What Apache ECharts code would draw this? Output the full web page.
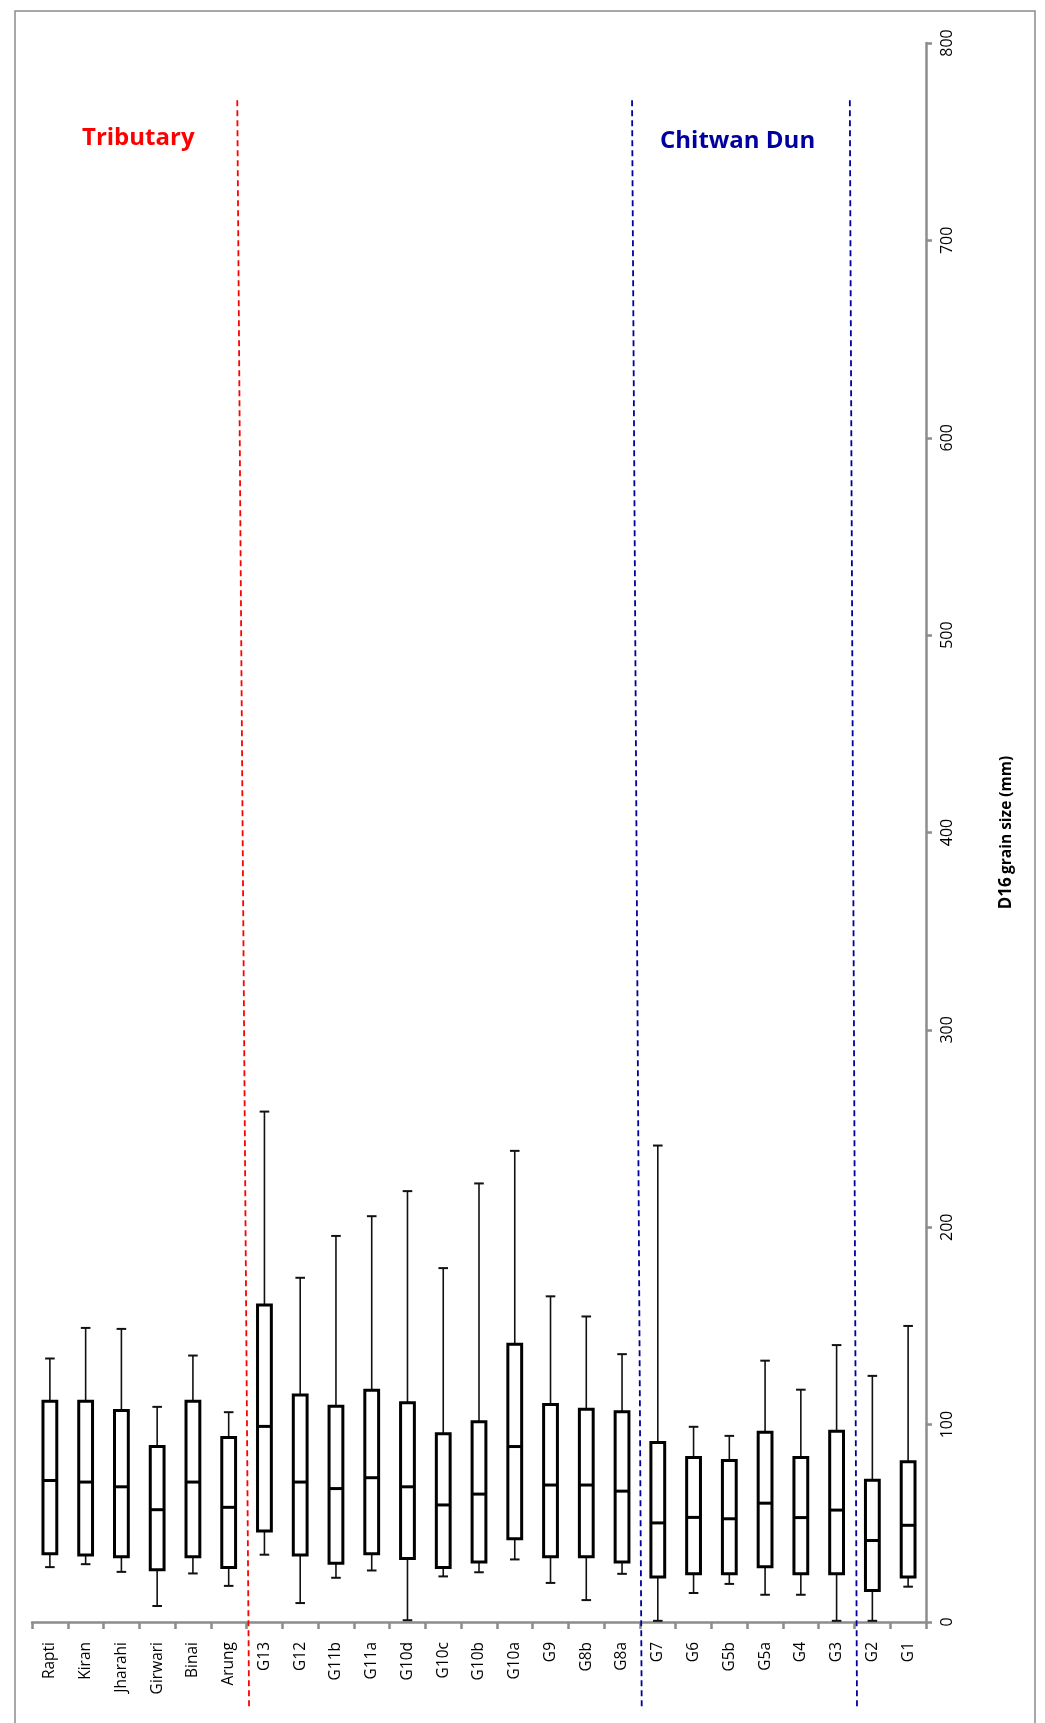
<!DOCTYPE html>
<html>
<head>
<meta charset="utf-8">
<script src="https://cdn.jsdelivr.net/npm/echarts@6/dist/echarts.min.js"></script>
<style>
  html, body { margin: 0; padding: 0; background: #fff; }
  #chart { width: 1045px; height: 1723px; }
</style>
</head>
<body>
<div id="chart"></div>
<script>
// sites, upstream to downstream
var sites = ['Rapti', 'Kiran', 'Jharahi', 'Girwari', 'Binai', 'Arung',
  'G13', 'G12', 'G11b', 'G11a', 'G10d', 'G10c', 'G10b', 'G10a', 'G9', 'G8b', 'G8a',
  'G7', 'G6', 'G5b', 'G5a', 'G4', 'G3', 'G2', 'G1'];

// D16 grain size (mm): whisker low, Q1, median, Q3, whisker high
var lowVals = [27.8, 29.3, 25.4, 8.1, 24.6, 18.3, 34.1, 9.6, 22.4, 26.1, 0.9, 23.1, 25.2, 31.7, 19.8, 11.1, 24.4, 0.6, 14.7, 19.3, 13.8, 13.8, 0.6, 0.6, 17.9];
var q1Vals = [34.6, 33.9, 33.0, 26.5, 33.1, 27.6, 46.1, 33.9, 29.8, 34.6, 32.2, 27.6, 30.4, 42.2, 33.1, 33.1, 30.4, 22.8, 24.5, 24.5, 28.0, 24.5, 24.5, 16.0, 22.8];
var medVals = [71.7, 70.9, 68.5, 56.9, 70.9, 58.1, 99.1, 70.9, 67.6, 73.1, 68.5, 59.3, 64.8, 88.9, 69.4, 69.4, 66.3, 50.2, 53.0, 52.3, 60.2, 52.9, 56.7, 41.3, 49.0];
var q3Vals = [111.9, 111.9, 107.2, 88.9, 111.9, 93.5, 160.6, 115.0, 109.3, 117.4, 111.1, 95.4, 101.5, 140.7, 110.2, 107.8, 106.5, 91.0, 83.4, 81.8, 96.1, 83.4, 96.7, 71.8, 81.2];
var highVals = [133.5, 149.0, 148.5, 109.0, 135.0, 106.3, 258.6, 174.4, 195.6, 205.6, 218.3, 179.3, 222.2, 238.7, 165.0, 154.8, 135.7, 241.4, 98.9, 94.3, 132.4, 117.7, 140.3, 124.7, 150.0];

// group dividers (slightly slanted dashed lines), in category-position units
var dividerTopX = [5.74, 16.78, 22.87];
var dividerBottomX = [6.07, 17.05, 23.07];
var dividerTopY = 771;
var dividerBottomY = -43;
var dividerColors = ['#ff0000', '#0000a0', '#0000a0'];

var valueTicks = { min: 0, max: 800, interval: 100 };

var boxData = sites.map(function (s, i) {
  return [i, lowVals[i], q1Vals[i], medVals[i], q3Vals[i], highVals[i]];
});

function renderBox(params, api) {
  var i = api.value(0);
  var pLow = api.coord([i, api.value(1)]);
  var pQ1 = api.coord([i, api.value(2)]);
  var pMed = api.coord([i, api.value(3)]);
  var pQ3 = api.coord([i, api.value(4)]);
  var pHigh = api.coord([i, api.value(5)]);
  var band = api.size([1, 0])[0];
  var hb = band * 0.193;
  var hc = band * 0.134;
  var x = pMed[0];
  var thin = { stroke: '#111', lineWidth: 1.6 };
  var thick = { stroke: '#000', lineWidth: 3 };
  return {
    type: 'group',
    children: [
      { type: 'line', shape: { x1: x, y1: pHigh[1], x2: x, y2: pQ3[1] }, style: thin },
      { type: 'line', shape: { x1: x, y1: pQ1[1], x2: x, y2: pLow[1] }, style: thin },
      { type: 'line', shape: { x1: x - hc, y1: pHigh[1], x2: x + hc, y2: pHigh[1] }, style: { stroke: '#111', lineWidth: 2 } },
      { type: 'line', shape: { x1: x - hc, y1: pLow[1], x2: x + hc, y2: pLow[1] }, style: { stroke: '#111', lineWidth: 2 } },
      { type: 'rect', shape: { x: x - hb, y: pQ3[1], width: 2 * hb, height: pQ1[1] - pQ3[1] }, style: { fill: '#fff', stroke: '#000', lineWidth: 3 } },
      { type: 'line', shape: { x1: x - hb, y1: pMed[1], x2: x + hb, y2: pMed[1] }, style: thick }
    ]
  };
}

var dividerSeries = dividerTopX.map(function (tx, k) {
  return {
    type: 'line',
    xAxisIndex: 1,
    yAxisIndex: 0,
    clip: false,
    silent: true,
    symbol: 'none',
    z: 5,
    data: [[tx, dividerTopY], [dividerBottomX[k], dividerBottomY]],
    lineStyle: { color: dividerColors[k], width: 1.8, type: [6, 4] }
  };
});

var axisGray = '#8c8c8c';
var chart = echarts.init(document.getElementById('chart'), null, { renderer: 'canvas' });
chart.setOption({
  animation: false,
  backgroundColor: '#fff',
  grid: { left: 32, right: 119, top: 43, bottom: 101 },
  xAxis: [{
    type: 'category',
    data: sites,
    position: 'bottom',
    boundaryGap: true,
    axisLine: { onZero: false, lineStyle: { color: axisGray, width: 2.5 } },
    axisTick: { show: true, length: 7, lineStyle: { color: axisGray, width: 2.5 } },
    axisLabel: {
      rotate: 90, margin: 20, interval: 0,
      color: '#000', fontSize: 15.5, fontFamily: 'Open Sans'
    },
    splitLine: { show: false }
  }, {
    type: 'value',
    min: 0, max: sites.length,
    show: false
  }],
  yAxis: [{
    type: 'value',
    position: 'right',
    min: valueTicks.min, max: valueTicks.max, interval: valueTicks.interval,
    axisLine: { show: true, onZero: false, lineStyle: { color: axisGray, width: 2.5 } },
    axisTick: { show: true, inside: false, length: 6, lineStyle: { color: axisGray, width: 2.5 } },
    axisLabel: { rotate: 90, margin: 13, color: '#000', fontSize: 16, fontFamily: 'Open Sans' },
    splitLine: { show: false },
    name: '{a|D16} {b|grain size (mm)}',
    nameLocation: 'middle',
    nameRotate: 90,
    nameGap: 72,
    nameTextStyle: {
      rich: {
        a: { fontSize: 17, fontWeight: 'bold', color: '#000', fontFamily: 'Open Sans' },
        b: { fontSize: 15.5, fontWeight: 'bold', color: '#000', fontFamily: 'Open Sans' }
      }
    }
  }],
  series: [{
    type: 'custom',
    renderItem: renderBox,
    data: boxData,
    encode: { x: 0, y: [1, 2, 3, 4, 5] },
    z: 3
  }].concat(dividerSeries),
  graphic: [
    { type: 'rect', silent: true, z: 0, shape: { x: 15, y: 11, width: 1020, height: 1730 },
      style: { fill: 'none', stroke: axisGray, lineWidth: 1.5 } },
    { type: 'text', left: 82, top: 126, z: 10,
      style: { text: 'Tributary', fill: '#ff0000', font: 'bold 24px "Open Sans"' } },
    { type: 'text', left: 660, top: 129, z: 10,
      style: { text: 'Chitwan Dun', fill: '#0000a0', font: 'bold 24px "Open Sans"' } }
  ]
});
</script>
</body>
</html>
